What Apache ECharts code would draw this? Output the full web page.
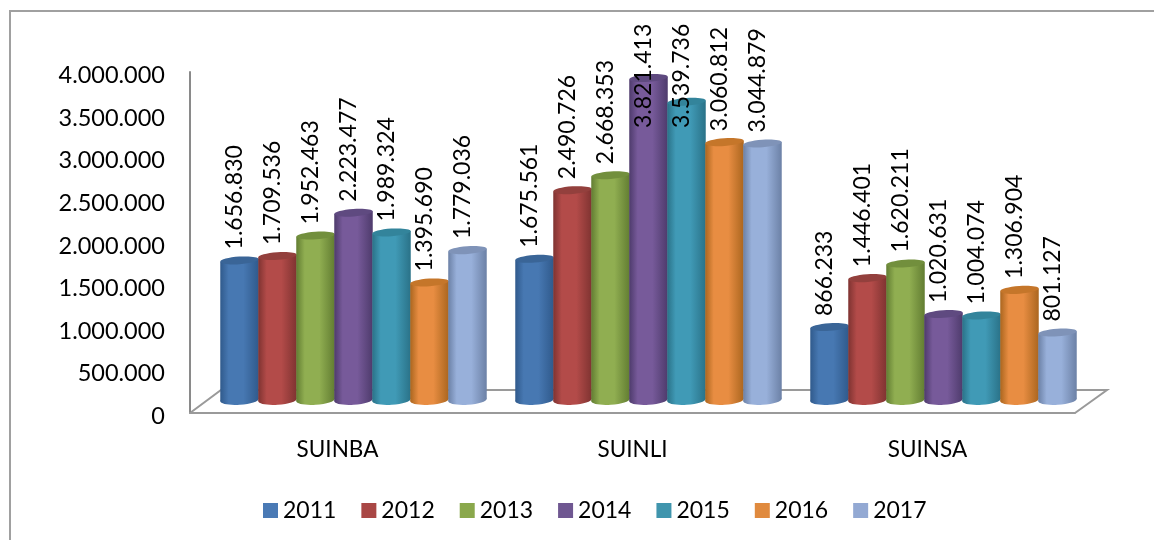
<!DOCTYPE html>
<html><head><meta charset="utf-8">
<script src="https://cdn.jsdelivr.net/npm/echarts@6/dist/echarts.min.js"></script>
<style>html,body{margin:0;padding:0;background:#fff}#c{width:1154px;height:540px}</style>
</head><body><div id="c"></div>
<script>
const categories = ['SUINBA', 'SUINLI', 'SUINSA'];
const tickLabels = ['0', '500.000', '1.000.000', '1.500.000', '2.000.000', '2.500.000', '3.000.000', '3.500.000', '4.000.000'];
const years = ['2011', '2012', '2013', '2014', '2015', '2016', '2017'];
const v2011 = [1656830, 1675561, 866233];
const v2012 = [1709536, 2490726, 1446401];
const v2013 = [1952463, 2668353, 1620211];
const v2014 = [2223477, 3821413, 1020631];
const v2015 = [1989324, 3539736, 1004074];
const v2016 = [1395690, 3060812, 1306904];
const v2017 = [1779036, 3044879, 801127];
const allValues = [v2011, v2012, v2013, v2014, v2015, v2016, v2017];
const swatch = ['#4a7ab5', '#a94745', '#8aa84c', '#6f5791', '#4095ad', '#e08a3e', '#93a9d3'];
const edge = ['#305a8c', '#7f3331', '#627d32', '#4e3b6c', '#2a7288', '#ab661f', '#6c81a6'];
const mid = ['#4778b2', '#b34b49', '#90ae51', '#775a9a', '#409ab6', '#e88d42', '#98b0da'];
const capC = ['#3a6597', '#93403d', '#728f3d', '#5f4a80', '#33849b', '#c5762a', '#7f93b8'];
const fmt = n => String(n).replace(/\B(?=(\d{3})+$)/g, '.');
const FONT = 'Lato, "Open Sans", sans-serif';

const chart = echarts.init(document.getElementById('c'), null, {renderer: 'canvas'});

function cyl(si) {
  return function (params, api) {
    const cat = api.value(0), val = api.value(1);
    const base = api.coord([cat, 0]);
    const top = api.coord([cat, val]);
    const band = api.size([1, 0])[0];
    const w = band * 0.1305;
    const cx = base[0] + (si - 3) * band * 0.1288;
    const rx = w / 2, ry = 3.8, tilt = 0.07;
    const grad = new echarts.graphic.LinearGradient(0, 0, 1, 0, [
      {offset: 0, color: edge[si]}, {offset: 0.22, color: mid[si]},
      {offset: 0.6, color: mid[si]}, {offset: 1, color: edge[si]}
    ]);
    const dy = rx * Math.sin(tilt);
    const labelBottom = Math.max(top[1] - 11, 128);
    return {type: 'group', children: [
      {type: 'ellipse', shape: {cx: 0, cy: 0, rx: rx, ry: ry + 1}, x: cx, y: base[1], rotation: tilt,
        style: {fill: grad}},
      {type: 'polygon', shape: {points: [
        [cx - rx, top[1] + dy], [cx + rx, top[1] - dy], [cx + rx, base[1] - dy], [cx - rx, base[1] + dy]
      ]}, style: {fill: grad}},
      {type: 'ellipse', shape: {cx: 0, cy: 0, rx: rx, ry: ry}, x: cx, y: top[1], rotation: tilt,
        style: {fill: capC[si]}},
      {type: 'text', x: cx - 5, y: labelBottom, rotation: Math.PI / 2, z2: 50,
        style: {text: fmt(val), fill: '#000', font: '23px ' + FONT, textAlign: 'left', textVerticalAlign: 'middle'}}
    ]};
  };
}

const series = years.map((y, si) => ({
  name: y, type: 'custom', xAxisIndex: 1, yAxisIndex: 1, clip: false,
  renderItem: cyl(si), itemStyle: {color: swatch[si]},
  encode: {x: 0, y: 1},
  data: allValues[si].map((v, i) => [i, v])
}));

chart.setOption({
  animation: false,
  backgroundColor: '#fff',
  grid: [
    {left: 190, top: 72, width: 885, height: 341},
    {left: 206, top: 63, width: 885, height: 337},
    {left: 190, top: 75.5, width: 885, height: 341}
  ],
  xAxis: [
    {type: 'category', data: categories, gridIndex: 0,
     axisLine: {lineStyle: {color: '#9a9a9a', width: 2}}, axisTick: {show: false},
     axisLabel: {color: '#000', fontFamily: FONT, fontSize: 22.5, margin: 25}},
    {type: 'category', data: categories, gridIndex: 1, show: false},
    {type: 'category', data: categories, gridIndex: 2, show: false}
  ],
  yAxis: [
    {type: 'value', gridIndex: 0, min: 0, max: 4000000, interval: 500000,
     axisLine: {show: true, lineStyle: {color: '#8a8a8a', width: 2}}, axisTick: {show: false}, splitLine: {show: false},
     axisLabel: {show: false}},
    {type: 'value', gridIndex: 1, min: 0, max: 4000000, show: false, splitLine: {show: false}},
    {type: 'value', gridIndex: 2, min: 0, max: 4000000, interval: 500000,
     axisLine: {show: false}, axisTick: {show: false}, splitLine: {show: false},
     axisLabel: {color: '#000', fontFamily: FONT, fontSize: 23.5, margin: 25,
       formatter: (v) => tickLabels[Math.round(v / 500000)]}}
  ],
  legend: {
    data: years, left: 258, top: 494, icon: 'rect', itemWidth: 15, itemHeight: 15, itemGap: 25,
    textStyle: {color: '#000', fontFamily: FONT, fontSize: 23}
  },
  graphic: [
    {type: 'rect', silent: true, z: -1, shape: {x: 10, y: 11, width: 1200, height: 600},
      style: {fill: '#fff', stroke: '#a0a0a0', lineWidth: 2}},
    {type: 'polyline', silent: true, z: 0, shape: {points: [[190, 413], [221, 390], [1107, 390], [1075, 413]]},
      style: {fill: null, stroke: '#9a9a9a', lineWidth: 2}}
  ],
  series
});
</script></body></html>
